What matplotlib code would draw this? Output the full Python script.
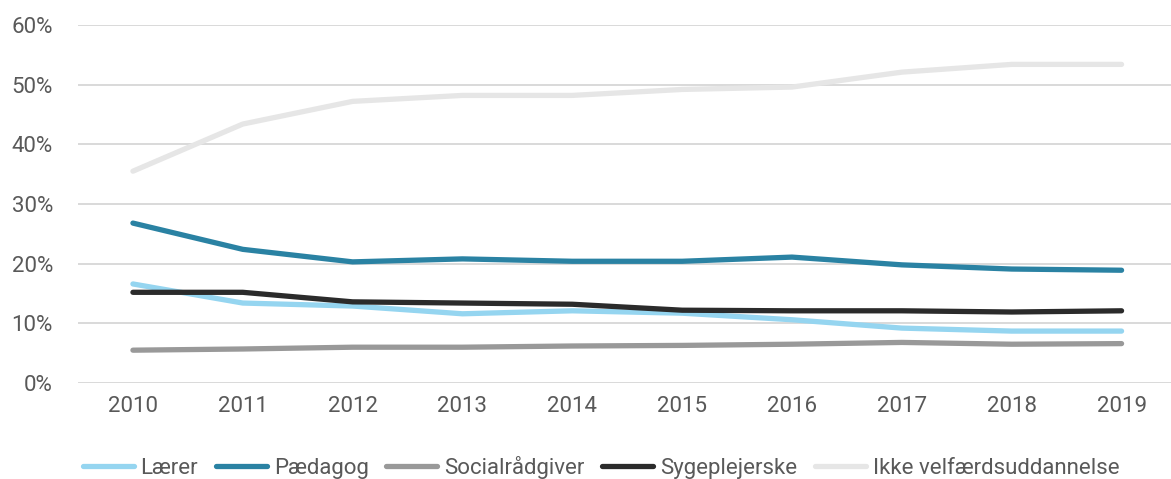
import matplotlib
matplotlib.use('Agg')
import matplotlib.pyplot as plt
from matplotlib.ticker import PercentFormatter

years = ['2010', '2011', '2012', '2013', '2014', '2015', '2016', '2017', '2018', '2019']

laerer = [16.6, 13.4, 12.9, 11.6, 12.1, 11.7, 10.6, 9.2, 8.7, 8.7]
paedagog = [26.8, 22.4, 20.3, 20.8, 20.4, 20.4, 21.1, 19.8, 19.1, 18.9]
social = [5.5, 5.7, 6.0, 6.0, 6.2, 6.3, 6.5, 6.8, 6.5, 6.6]
syge = [15.2, 15.2, 13.6, 13.4, 13.2, 12.2, 12.1, 12.1, 11.9, 12.1]
ikke = [35.5, 43.4, 47.2, 48.2, 48.2, 49.2, 49.6, 52.1, 53.4, 53.4]

series = [
    ('Lærer', laerer, '#95d5f0'),
    ('Pædagog', paedagog, '#2a82a3'),
    ('Socialrådgiver', social, '#999999'),
    ('Sygeplejerske', syge, '#2b2b2b'),
    ('Ikke velfærdsuddannelse', ikke, '#e6e6e6'),
]

plt.rcParams['font.family'] = ['Roboto', 'DejaVu Sans']
txt = '#595959'

fig = plt.figure(figsize=(11.71, 4.79), dpi=100)
ax = fig.add_axes([78 / 1171, 96 / 479, 1093 / 1171, 358 / 479])

x = list(range(len(years)))
for name, vals, col in series:
    ax.plot(x, vals, color=col, linewidth=3.8, solid_capstyle='round',
            solid_joinstyle='round', label=name)

ax.set_xlim(-0.5, 9.45)
ax.set_ylim(0, 60)
ax.set_yticks(range(0, 61, 10))
ax.yaxis.set_major_formatter(PercentFormatter(decimals=0))
ax.set_xticks(x)
ax.set_xticklabels(years)
ax.grid(axis='y', color='#d9d9d9', linewidth=1.4)
ax.set_axisbelow(True)
for s in ax.spines.values():
    s.set_visible(False)
ax.tick_params(length=0, labelsize=16, colors=txt, pad=9)
ax.tick_params(axis='y', pad=18)

ax.legend(loc='center', bbox_to_anchor=(523 / 1093, -0.235), ncol=5, frameon=False,
          fontsize=16, labelcolor=txt, handlelength=2.3, handletextpad=0.3,
          columnspacing=0.8)

plt.savefig('out.png', dpi=100)
plt.close()
